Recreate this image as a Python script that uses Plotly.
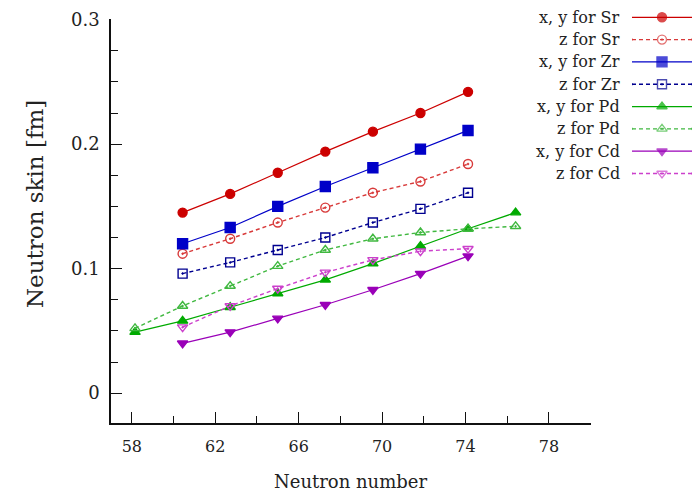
import plotly.graph_objects as go

# ---------------- data ----------------
n_std = [60, 62, 64, 66, 68, 70, 72]
n_pd = [58, 60, 62, 64, 66, 68, 70, 72, 74]

sr_xy = [0.145, 0.160, 0.177, 0.194, 0.210, 0.225, 0.242]
sr_z = [0.112, 0.124, 0.137, 0.149, 0.161, 0.170, 0.184]
zr_xy = [0.120, 0.133, 0.150, 0.166, 0.181, 0.196, 0.211]
zr_z = [0.096, 0.105, 0.115, 0.125, 0.137, 0.148, 0.161]
pd_xy = [0.049, 0.058, 0.069, 0.080, 0.091, 0.104, 0.118, 0.132, 0.145]
pd_z = [0.052, 0.070, 0.086, 0.102, 0.115, 0.124, 0.129, 0.132, 0.134]
cd_xy = [0.040, 0.049, 0.060, 0.071, 0.083, 0.096, 0.110]
cd_z = [0.053, 0.070, 0.084, 0.097, 0.107, 0.114, 0.116]

labels = ["x, y for Sr", "z for Sr", "x, y for Zr", "z for Zr",
          "x, y for Pd", "z for Pd", "x, y for Cd", "z for Cd"]

x_tick_labels = ["58", "62", "66", "70", "74", "78"]

FONT = "DejaVu Serif"

series = [
    dict(x=n_std, y=sr_xy, color="#cc0000", dash="solid", symbol="circle", size=9, lw=1.2),
    dict(x=n_std, y=sr_z, color="#d83a3a", dash="4px,3px", symbol="circle-open-dot", size=9, lw=1.4),
    dict(x=n_std, y=zr_xy, color="#0000c8", dash="solid", symbol="square", size=10, lw=1.2),
    dict(x=n_std, y=zr_z, color="#000090", dash="4px,3px", symbol="square-open-dot", size=9, lw=1.4),
    dict(x=n_pd, y=pd_xy, color="#00aa00", dash="solid", symbol="triangle-up", size=9, lw=1.2),
    dict(x=n_pd, y=pd_z, color="#40b840", dash="4px,3px", symbol="triangle-up-open-dot", size=9, lw=1.4),
    dict(x=n_std, y=cd_xy, color="#9a00b8", dash="solid", symbol="triangle-down", size=9, lw=1.2),
    dict(x=n_std, y=cd_z, color="#cc40cc", dash="4px,3px", symbol="triangle-down-open-dot", size=9, lw=1.4),
]

fig = go.Figure()

# empty trace so that the tick-bearing x axis is registered and drawn
fig.add_trace(go.Scatter(x=[], y=[], xaxis="x", yaxis="y", mode="markers",
                         showlegend=False, hoverinfo="skip"))

for s in series:
    fig.add_trace(go.Scatter(
        x=s["x"], y=s["y"], xaxis="x2", yaxis="y", mode="lines+markers",
        line=dict(color=s["color"], width=s["lw"], dash=s["dash"]),
        marker=dict(symbol=s["symbol"], size=s["size"], color=s["color"],
                    line=dict(color=s["color"], width=1.4)),
        showlegend=False, hoverinfo="skip"))

# custom legend (symbol to the right of the text, as in the reference)
for i, (s, lab) in enumerate(zip(series, labels)):
    fig.add_trace(go.Scatter(
        x=[0, 0.5, 1], y=[i, i, i], xaxis="x3", yaxis="y3", mode="lines+markers",
        line=dict(color=s["color"], width=s["lw"], dash=s["dash"]),
        marker=dict(symbol=s["symbol"], size=[0, s["size"], 0], color=s["color"],
                    line=dict(color=s["color"], width=1.4)),
        showlegend=False, hoverinfo="skip"))
    fig.add_annotation(x=0, y=i, xref="x3", yref="y3", text=lab, showarrow=False,
                       xanchor="right", yanchor="middle", xshift=-10,
                       font=dict(family=FONT, size=16, color="#222"))

main_dom_x = [0, 480 / 581]
main_dom_y = [0, 404 / 418]

fig.update_layout(
    width=697, height=492,
    margin=dict(l=111, r=5, t=5, b=69),
    paper_bgcolor="white", plot_bgcolor="white",
    showlegend=False,
    font=dict(family=FONT, color="#222"),
    xaxis=dict(domain=main_dom_x, range=[57, 80.02], anchor="y", automargin=False,
               tickmode="array", tickvals=[int(t) for t in x_tick_labels], ticktext=x_tick_labels,
               ticks="inside", ticklen=11, tickwidth=1.3, tickcolor="#111",
               minor=dict(dtick=2, tick0=58, ticks="inside", ticklen=7, tickwidth=1.3, tickcolor="#111"),
               showline=True, linecolor="#111", linewidth=1.5, mirror=False,
               showgrid=False, zeroline=False, ticklabelstandoff=8,
               tickfont=dict(family=FONT, size=16, color="#222")),
    xaxis2=dict(overlaying="x", range=[56.99, 77.17], anchor="y", visible=False, automargin=False),
    yaxis=dict(domain=main_dom_y, range=[-0.024, 0.3005], anchor="x", automargin=False,
               tick0=0, dtick=0.1,
               ticks="inside", ticklen=11, tickwidth=1.3, tickcolor="#111",
               minor=dict(dtick=0.025, ticks="inside", ticklen=7, tickwidth=1.3, tickcolor="#111"),
               showline=True, linecolor="#111", linewidth=1.5, mirror=False,
               showgrid=False, zeroline=False, ticklabelstandoff=6,
               tickfont=dict(family=FONT, size=18, color="#222")),
    xaxis3=dict(domain=[(632 - 111) / 581, (692 - 111) / 581], range=[0, 1], anchor="y3",
                visible=False, fixedrange=True, automargin=False),
    yaxis3=dict(domain=[(423 - 184.6) / 418, (423 - 6.15) / 418], range=[7.5, -0.5],
                anchor="x3", visible=False, fixedrange=True, automargin=False),
)

fig.add_annotation(x=(350 - 111) / 581, y=(423 - 481) / 418, xref="paper", yref="paper",
                   text="Neutron number", showarrow=False, xanchor="center", yanchor="middle",
                   font=dict(family=FONT, size=18, color="#222"))
fig.add_annotation(x=(35 - 111) / 581, y=(423 - 204) / 418, xref="paper", yref="paper",
                   text="Neutron skin [fm]", showarrow=False, textangle=-90,
                   xanchor="center", yanchor="middle",
                   font=dict(family=FONT, size=23, color="#222"))

fig.write_html("out.html")
